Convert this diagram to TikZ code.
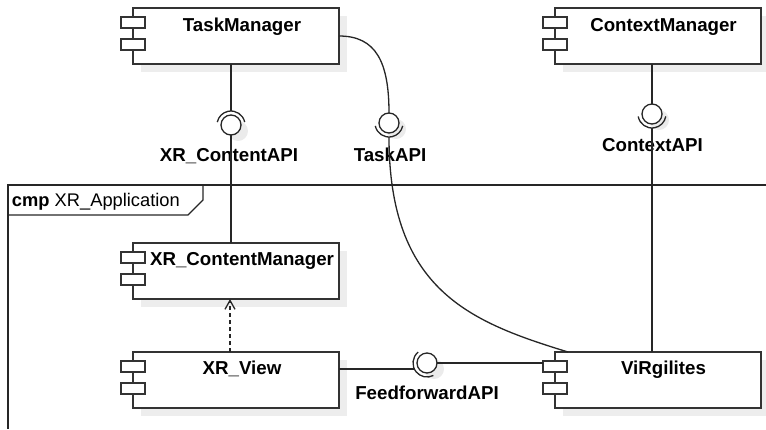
\documentclass[tikz,border=0pt]{standalone}
\usepackage{fontspec}
\setmainfont{Liberation Sans}
\usetikzlibrary{arrows.meta,shadows}

% two little port rectangles on the left edge of a component box
\newcommand\compports[1]{%
  \draw[port] ([shift={(-12pt,-9pt)}]#1.north west) rectangle ++(24pt,-11pt);
  \draw[port] ([shift={(-12pt,-31pt)}]#1.north west) rectangle ++(24pt,-11pt);}
% socket (required interface) arc around a ball node
\newcommand\socket[3]{%
  \draw[conn] ([shift={(#2:14pt)}]#1.center) arc[start angle=#2, end angle=#3, radius=14pt];}

\begin{document}
\begin{tikzpicture}[x=1pt,y=-1pt,
  every node/.style={inner sep=0pt, outer sep=0pt},
  comp/.style={draw=black!80, line width=1.3pt, fill=white,
    minimum width=206pt, minimum height=56pt,
    general shadow={fill=black!7, shadow xshift=8pt, shadow yshift=-8pt}},
  port/.style={draw=black!80, line width=1.3pt, fill=white},
  cname/.style={font=\fontsize{18.7}{22}\selectfont\bfseries,
    text height=13.4pt, text depth=0pt},
  ball/.style={circle, draw=black!85, line width=1.3pt, fill=white, minimum size=20pt,
    general shadow={fill=black!8, shadow xshift=7pt, shadow yshift=-6pt}},
  conn/.style={draw=black!85, line width=1.3pt},
  dep/.style={conn, dash pattern=on 4pt off 3pt,
    -{Straight Barb[length=9pt,width=10pt,line width=1.3pt]}},
  frameline/.style={draw=black!85, line width=1.3pt}]

\useasboundingbox (0,0) rectangle (766,429);

% package frame
\draw[frameline] (766,185) -- (8,185) -- (8,429);
\draw[frameline] (8,215) -- (188,215) -- (203,200) -- (203,185);
\node[anchor=west, font=\fontsize{18.3}{22}\selectfont, text height=13pt, text depth=0pt]
  (flabel) at (12,200) {\textbf{cmp} XR\_Application};

% components
\node[comp] (tm)  at (236,36)  {};
\node[comp] (cm)  at (658,36)  {};
\node[comp] (xcm) at (236,271) {};
\node[comp] (xv)  at (236,380) {};
\node[comp] (vg)  at (658,380) {};
\foreach \c in {tm,cm,xcm,xv,vg}{\compports{\c}}

\node[cname] (tmt)  at ([shift={(6pt,-16.5pt)}]tm.north)  {TaskManager};
\node[cname] (cmt)  at ([shift={(5.5pt,-16.5pt)}]cm.north) {ContextManager};
\node[cname] (xcmt) at ([shift={(6pt,-16pt)}]xcm.north)   {XR\_ContentManager};
\node[cname] (xvt)  at ([shift={(6pt,-16pt)}]xv.north)    {XR\_View};
\node[cname] (vgt)  at ([shift={(5.5pt,-16pt)}]vg.north)  {ViRgilites};

% provided interfaces (balls)
\node[ball] (bXCA) at (231,125) {};
\node[ball] (bTA)  at (389,123) {};
\node[ball] (bCA)  at (652,114) {};
\node[ball] (bFF)  at (427,363) {};

% required interfaces (sockets)
\socket{bXCA}{12}{168}
\socket{bTA}{192}{348}
\socket{bCA}{190}{350}
\socket{bFF}{129}{297}

\coordinate (sXCA) at ([yshift=14pt]bXCA.center);
\coordinate (sTA)  at ([yshift=-14pt]bTA.center);
\coordinate (sCA)  at ([yshift=-14pt]bCA.center);
\coordinate (sFF)  at ([shift={(-12.65pt,-6pt)}]bFF.center);
\coordinate (vgIn) at ([xshift=13pt]vg.north west);
\coordinate (vgPort) at ([xshift=-12pt]vg.north west);

% interface labels
\node[cname] (lXCA) at (229,154.5) {XR\_ContentAPI};
\node[cname] (lTA)  at (390,154.5) {TaskAPI};
\node[cname] (lCA)  at (652.5,145) {ContextAPI};
\node[cname] (lFF)  at (427,393)   {FeedforwardAPI};

% connectors
\draw[conn] (tm.south -| bXCA) -- (sXCA);
\draw[conn] (bXCA.south) -- (xcm.north -| bXCA);
\draw[conn] (tm.east) .. controls (376,36) and (389,62) .. (bTA.north);
\draw[conn] (sTA) .. controls (389,290) and (470,322) .. (vgIn);
\draw[conn] (cm.south -| bCA) -- (bCA.north);
\draw[conn] (sCA) -- (vg.north -| bCA);
\draw[conn] (xv.east |- sFF) -- (sFF);
\draw[conn] (bFF.east) -- (bFF.east -| vgPort);

% dependency
\draw[dep] ([xshift=-6pt]xv.north) -- ([xshift=-6pt]xcm.south);
\end{tikzpicture}
\end{document}
